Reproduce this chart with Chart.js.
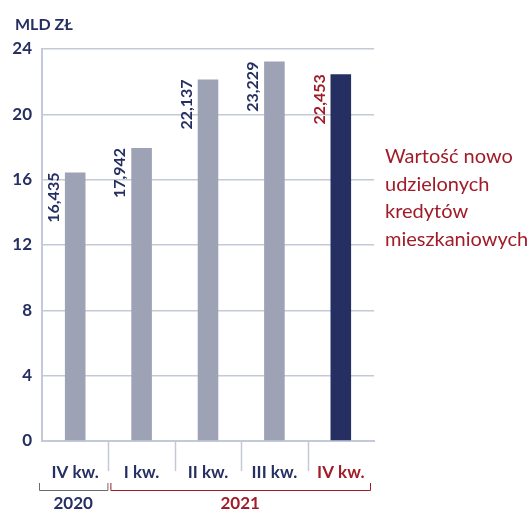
<!DOCTYPE html>
<html>
<head>
<meta charset="utf-8">
<script src="https://cdn.jsdelivr.net/npm/chart.js@4"></script>
<style>
  html, body { margin: 0; padding: 0; background: #fff; }
  #wrap { width: 532px; height: 511px; }
</style>
</head>
<body>
<div id="wrap"><canvas id="kredytyChart" width="532" height="511"></canvas></div>
<script>
const categories = ['IV kw.', 'I kw.', 'II kw.', 'III kw.', 'IV kw.'];
const values = [16.435, 17.942, 22.137, 23.229, 22.453];
const valueLabels = ['16,435', '17,942', '22,137', '23,229', '22,453'];
const yTicks = [0, 4, 8, 12, 16, 20, 24];
const years = ['2020', '2021'];
const yearSpans = [[0, 0], [1, 4]];
const noteLines = ['Wartość nowo', 'udzielonych', 'kredytów', 'mieszkaniowych'];

const NAVY = '#262f62';
const RED = '#a01c28';
const GRAY_BAR = '#9da2b4';
const GRID = '#c3c9d8';
const FONT = 'Lato, "Open Sans", sans-serif';

const ctx = document.getElementById('kredytyChart').getContext('2d');

const overlay = {
    id: 'overlay',
    afterDatasetsDraw(chart) {
        const c = chart.ctx;
        const x = chart.scales.x;
        const y = chart.scales.y;
        const area = chart.chartArea;
        const meta = chart.getDatasetMeta(0);
        c.save();

        // unit label
        c.fillStyle = NAVY;
        c.font = 'bold 16px ' + FONT;
        c.textAlign = 'left';
        c.textBaseline = 'middle';
        c.fillText('MLD ZŁ', 15, 25);

        // value labels, rotated, left of each bar
        c.font = 'bold 16px ' + FONT;
        meta.data.forEach((bar, i) => {
            const left = bar.x - bar.width / 2;
            c.save();
            c.translate(left - 11, y.getPixelForValue(values[i]));
            c.rotate(-Math.PI / 2);
            c.textAlign = 'right';
            c.textBaseline = 'middle';
            c.fillStyle = i === values.length - 1 ? RED : NAVY;
            c.fillText(valueLabels[i], 0, 0);
            c.restore();
        });

        // category dividers under the axis
        c.strokeStyle = GRID;
        c.lineWidth = 1.5;
        const step = x.getPixelForValue(1) - x.getPixelForValue(0);
        for (let i = 1; i < categories.length; i++) {
            const px = Math.round(x.getPixelForValue(i) - step / 2) + 0.5;
            c.beginPath();
            c.moveTo(px, area.bottom);
            c.lineTo(px, area.bottom + 30);
            c.stroke();
        }

        // year brackets
        yearSpans.forEach((span, i) => {
            const x0 = x.getPixelForValue(span[0]) - step / 2 + (i === 0 ? -3 : 2);
            const x1 = x.getPixelForValue(span[1]) + step / 2 + (i === 0 ? -1 : -4);
            const by = area.bottom + 49;
            c.strokeStyle = i === 0 ? '#6b6b6b' : RED;
            c.lineWidth = 1;
            c.beginPath();
            c.moveTo(x0 + 0.5, by - 7);
            c.lineTo(x0 + 0.5, by + 0.5);
            c.lineTo(x1 + 0.5, by + 0.5);
            c.lineTo(x1 + 0.5, by - 7);
            c.stroke();
            c.fillStyle = i === 0 ? NAVY : RED;
            c.font = 'bold 17px ' + FONT;
            c.textAlign = 'center';
            c.textBaseline = 'middle';
            c.fillText(years[i], (x0 + x1) / 2, by + 14);
        });

        // side note
        c.fillStyle = RED;
        c.font = '20px ' + FONT;
        c.textAlign = 'left';
        c.textBaseline = 'middle';
        noteLines.forEach((t, i) => c.fillText(t, 385, 157 + i * 27.5));

        c.restore();
    }
};

new Chart(ctx, {
    type: 'bar',
    data: {
        labels: categories,
        datasets: [{
            data: values,
            backgroundColor: values.map((v, i) => i === values.length - 1 ? NAVY : GRAY_BAR),
            borderWidth: 0,
            barPercentage: 0.31,
            categoryPercentage: 1
        }]
    },
    options: {
        responsive: false,
        animation: false,
        layout: { padding: { top: 49, right: 158, left: 0, bottom: 0 } },
        plugins: { legend: { display: false }, tooltip: { enabled: false } },
        scales: {
            y: {
                min: 0,
                max: 24,
                afterFit: (s) => { s.width = 42; },
                afterBuildTicks: (s) => { s.ticks = yTicks.map(v => ({ value: v })); },
                ticks: {
                    color: NAVY,
                    padding: 10,
                    font: { family: FONT, size: 17, weight: 'bold' }
                },
                grid: { color: GRID, lineWidth: 1.5, drawTicks: false },
                border: { color: GRID, width: 2 }
            },
            x: {
                afterFit: (s) => { s.height = 70; },
                grid: { display: false },
                border: { color: GRID, width: 2 },
                ticks: {
                    padding: 13,
                    color: categories.map((c, i) => i === categories.length - 1 ? RED : NAVY),
                    font: { family: FONT, size: 17, weight: 'bold' }
                }
            }
        }
    },
    plugins: [overlay]
});
</script>
</body>
</html>
